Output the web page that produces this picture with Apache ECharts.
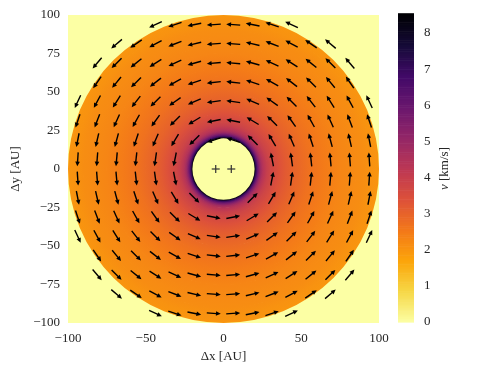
<!DOCTYPE html>
<html>
<head>
<meta charset="utf-8">
<script src="https://cdn.jsdelivr.net/npm/echarts@6/dist/echarts.min.js"></script>
<style>
  html, body, #main { width: 480px; height: 374px; margin: 0; background: #fff; }
</style>
</head>
<body>
<div id="main"></div>
<script>
// radial speed profile of the disc (AU, km/s)
var profileR = [20, 21, 22, 23, 24, 25, 26, 28, 30, 33, 36, 40, 45, 50, 55, 60, 65, 70, 75, 80, 85, 90, 95, 100];
var profileV = [8.4, 7.0, 6.0, 5.3, 4.8, 4.5, 4.3, 4.0, 3.8, 3.6, 3.4, 3.2, 3.0, 2.85, 2.7, 2.6, 2.5, 2.4, 2.3, 2.25, 2.2, 2.15, 2.05, 2.0];

// quiver grid (arrow centres, AU)
var arrowX = [-93.75, -81.25, -68.75, -56.25, -43.75, -31.25, -18.75, -6.25, 6.25, 18.75, 31.25, 43.75, 56.25, 68.75, 81.25, 93.75];
var arrowY = arrowX.slice();

// the two stars
var stars = [[-5, 0], [5, 0]];

var xTicks = [-100, -50, 0, 50, 100];
var yTicks = [-100, -75, -50, -25, 0, 25, 50, 75, 100];
var cbTicks = [0, 1, 2, 3, 4, 5, 6, 7, 8];

var cbMax = 8.5;

// inferno reversed
var inferno_r = ['#fcffa4', '#f6d746', '#fca50a', '#f37819', '#dd513a', '#bc3754',
                 '#932667', '#6a176e', '#420a68', '#160b39', '#000004'];

function speedColor(v) {
    return echarts.color.lerp(Math.min(v / cbMax, 1), inferno_r);
}

// one ring of the disc between two sampled radii
var rings = [];
for (var i = 0; i < profileR.length - 1; i++) {
    rings.push([profileR[i], profileR[i + 1], profileV[i], profileV[i + 1]]);
}

var arrows = [];
arrowX.forEach(function (x) {
    arrowY.forEach(function (y) {
        var r = Math.sqrt(x * x + y * y);
        var keep = r < 108 && (r > 21 || (r > 19 && y > 0 && Math.abs(x) < 10));
        if (!keep) return;
        // counter-clockwise, tangential
        arrows.push([x, y, -y / r, x / r]);
    });
});

var cbData = [];
var cbStep = 0.05;
for (var v = 0; v < cbMax; v += cbStep) cbData.push([0, v, v + cbStep / 2]);

var font = 'Liberation Serif';
var ink = '#262626';
function minus(v) { return String(v).replace('-', '\u2212'); }

var chart = echarts.init(document.getElementById('main'), null, { renderer: 'canvas' });

chart.setOption({
    animation: false,
    backgroundColor: '#fff',
    grid: [
        { left: 68, right: 101, top: 15, bottom: 51, show: true, backgroundColor: '#fcffa4', borderWidth: 0 },
        { left: 398, width: 16, top: 15, bottom: 52, show: false }
    ],
    xAxis: [
        {
            type: 'value', gridIndex: 0, min: -100, max: 100, interval: 50,
            name: '\u0394x [AU]', nameLocation: 'middle', nameGap: 24,
            nameTextStyle: { fontFamily: font, fontSize: 13, color: ink },
            axisLine: { show: false }, axisTick: { show: false }, splitLine: { show: false },
            axisLabel: { fontFamily: font, fontSize: 13, color: ink, margin: 9, formatter: minus }
        },
        { type: 'value', gridIndex: 1, min: 0, max: 1, show: false }
    ],
    yAxis: [
        {
            type: 'value', gridIndex: 0, min: -100, max: 100, interval: 25,
            name: '\u0394y [AU]', nameLocation: 'middle', nameGap: 44,
            nameTextStyle: { fontFamily: font, fontSize: 13, color: ink },
            axisLine: { show: false }, axisTick: { show: false }, splitLine: { show: false },
            axisLabel: { fontFamily: font, fontSize: 13, color: ink, margin: 8, formatter: minus }
        },
        {
            type: 'value', gridIndex: 1, min: 0, max: cbMax, interval: 1, position: 'right',
            name: '{i|v} [km/s]', nameLocation: 'middle', nameGap: 24, nameRotate: 90,
            nameTextStyle: { fontFamily: font, fontSize: 13, color: ink,
                rich: { i: { fontFamily: font, fontSize: 13, fontStyle: 'italic', color: ink } } },
            axisLine: { show: false }, axisTick: { show: false }, splitLine: { show: false },
            axisLabel: { fontFamily: font, fontSize: 13, color: ink, margin: 10, showMaxLabel: false }
        }
    ],
    visualMap: {
        type: 'continuous', show: false, min: 0, max: cbMax, dimension: 2,
        seriesIndex: [1], inRange: { color: inferno_r }
    },
    series: [
        {
            // disc: rings between sampled radii, shaded between the sampled speeds
            type: 'custom', xAxisIndex: 0, yAxisIndex: 0, data: rings, silent: true,
            renderItem: function (params, api) {
                var c = api.coord([0, 0]);
                var r0 = api.size([api.value(0), 0])[0];
                var r1 = api.size([api.value(1), 0])[0];
                var sy = api.size([0, 100])[1] / api.size([100, 0])[0];
                var last = params.dataIndex === rings.length - 1;
                return {
                    type: 'ring',
                    shape: { cx: c[0], cy: c[1], r0: r0, r: last ? r1 : r1 + 0.8 },
                    originX: c[0], originY: c[1], scaleY: sy,
                    style: {
                        fill: {
                            type: 'radial', x: c[0], y: c[1], r: r1, global: true,
                            colorStops: [
                                { offset: 0, color: speedColor(api.value(2)) },
                                { offset: r0 / r1, color: speedColor(api.value(2)) },
                                { offset: 1, color: speedColor(api.value(3)) }
                            ]
                        }
                    }
                };
            }
        },
        {
            type: 'custom', xAxisIndex: 1, yAxisIndex: 1, data: cbData, silent: true,
            renderItem: function (params, api) {
                var a = api.coord([0, api.value(1) + cbStep]);
                var b = api.coord([1, api.value(1)]);
                return {
                    type: 'rect',
                    shape: { x: a[0], y: a[1], width: b[0] - a[0], height: b[1] - a[1] + 0.6 },
                    style: { fill: api.visual('color') }
                };
            }
        },
        {
            type: 'custom', xAxisIndex: 0, yAxisIndex: 0, data: arrows, silent: true,
            renderItem: function (params, api) {
                var c = api.coord([api.value(0), api.value(1)]);
                var dx = api.value(2), dy = -api.value(3);
                var L = 14, hl = 4.8, hw = 4.6;
                var tail = [c[0] - dx * L / 2, c[1] - dy * L / 2];
                var tip = [c[0] + dx * L / 2, c[1] + dy * L / 2];
                var base = [tip[0] - dx * hl, tip[1] - dy * hl];
                var nx = -dy, ny = dx;
                return {
                    type: 'group',
                    children: [
                        { type: 'line', shape: { x1: tail[0], y1: tail[1], x2: base[0] + dx, y2: base[1] + dy },
                          style: { stroke: '#000', lineWidth: 1.4 } },
                        { type: 'polygon', shape: { points: [tip,
                            [base[0] + nx * hw / 2, base[1] + ny * hw / 2],
                            [base[0] - nx * hw / 2, base[1] - ny * hw / 2]] },
                          style: { fill: '#000' } }
                    ]
                };
            }
        },
        {
            type: 'custom', xAxisIndex: 0, yAxisIndex: 0, data: stars, silent: true,
            renderItem: function (params, api) {
                var c = api.coord([api.value(0), api.value(1)]);
                var s = 4;
                return {
                    type: 'group',
                    children: [
                        { type: 'line', shape: { x1: c[0] - s, y1: c[1], x2: c[0] + s, y2: c[1] }, style: { stroke: '#333', lineWidth: 1.2 } },
                        { type: 'line', shape: { x1: c[0], y1: c[1] - s, x2: c[0], y2: c[1] + s }, style: { stroke: '#333', lineWidth: 1.2 } }
                    ]
                };
            }
        }
    ]
});
</script>
</body>
</html>
